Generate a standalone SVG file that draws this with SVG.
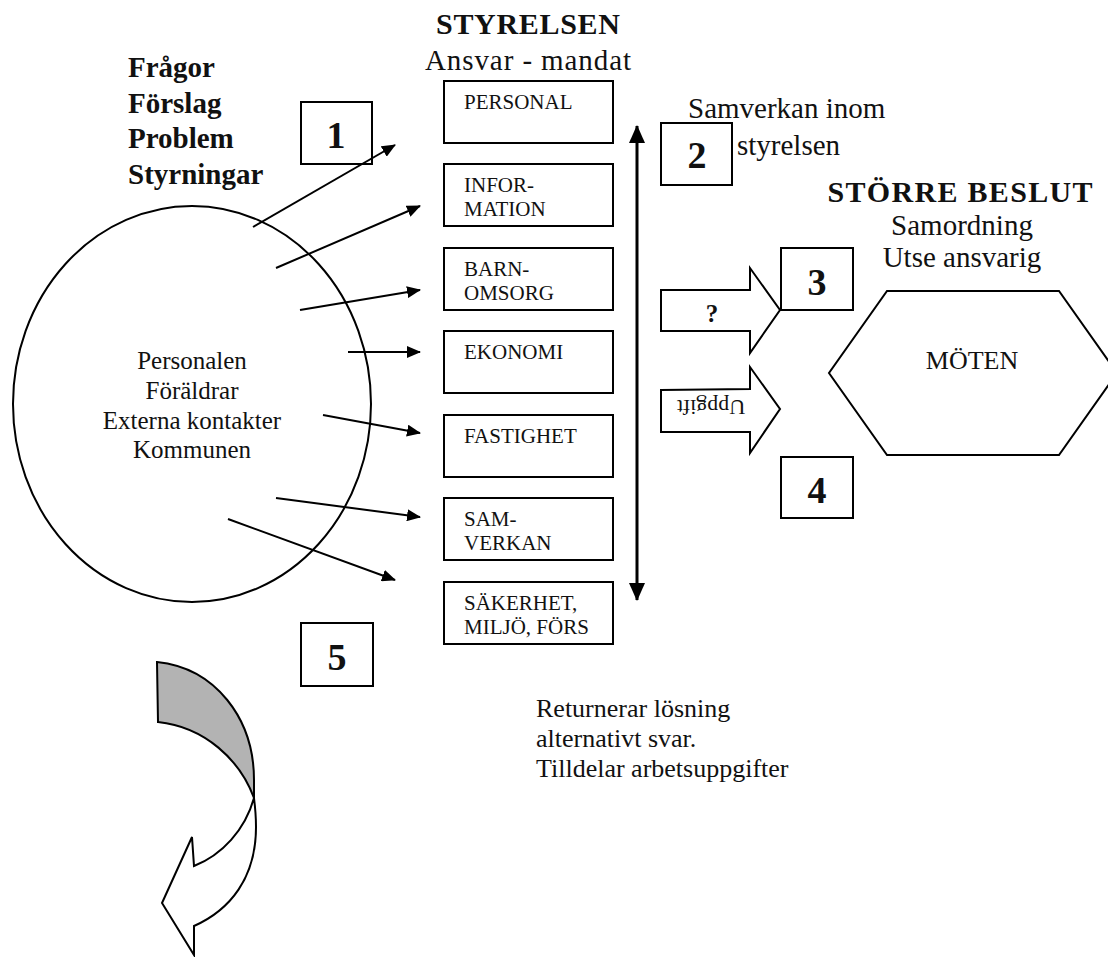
<svg xmlns="http://www.w3.org/2000/svg" width="1108" height="957" viewBox="0 0 1108 957">
<style>
text{font-family:"Liberation Serif","Times New Roman",serif;fill:#111}
.b{font-weight:bold}
.t28{font-size:29px}
.t25{font-size:25px}
.t21{font-size:21px}
.num{font-size:38px;font-weight:bold;text-anchor:middle}
.box{fill:#fff;stroke:#000;stroke-width:2}
.conn{stroke:#000;stroke-width:2;fill:none;marker-end:url(#ah)}
.shape{fill:#fff;stroke:#000;stroke-width:2;stroke-linejoin:miter}
.mid{text-anchor:middle}
</style>
<defs>
<marker id="ah" viewBox="0 0 14 12" refX="13" refY="6" markerWidth="14" markerHeight="12" markerUnits="userSpaceOnUse" orient="auto"><path d="M0,0 L14,6 L0,12 Z" fill="#000"/></marker>
<marker id="ahb" viewBox="0 0 18 16" refX="17" refY="8" markerWidth="18" markerHeight="16" markerUnits="userSpaceOnUse" orient="auto-start-reverse"><path d="M0,0 L18,8 L0,16 Z" fill="#000"/></marker>
</defs>
<rect width="1108" height="957" fill="#fff"/>

<g id="title-styrelsen">
<text class="b mid" x="528" y="34" font-size="30" textLength="184">STYRELSEN</text>
<text class="t28 mid" x="528" y="70" textLength="206">Ansvar - mandat</text>
</g>

<g id="questions">
<text class="b t28" x="128" y="77">Frågor</text>
<text class="b t28" x="128" y="113">Förslag</text>
<text class="b t28" x="128" y="148">Problem</text>
<text class="b t28" x="128" y="184">Styrningar</text>
</g>

<g id="circle">
<ellipse cx="192" cy="404" rx="179" ry="198" fill="none" stroke="#000" stroke-width="2"/>
<text class="t25 mid" x="192" y="369">Personalen</text>
<text class="t25 mid" x="192" y="399">Föräldrar</text>
<text class="t25 mid" x="192" y="429">Externa kontakter</text>
<text class="t25 mid" x="192" y="458">Kommunen</text>
</g>

<g id="box-personal"><rect class="box" x="444" y="81" width="169" height="62"/><text class="t21" x="464" y="109">PERSONAL</text></g>
<g id="box-information"><rect class="box" x="444" y="164" width="169" height="62"/><text class="t21" x="464" y="192">INFOR-</text><text class="t21" x="464" y="216">MATION</text></g>
<g id="box-barnomsorg"><rect class="box" x="444" y="248" width="169" height="62"/><text class="t21" x="464" y="276">BARN-</text><text class="t21" x="464" y="300">OMSORG</text></g>
<g id="box-ekonomi"><rect class="box" x="444" y="331" width="169" height="62"/><text class="t21" x="464" y="359">EKONOMI</text></g>
<g id="box-fastighet"><rect class="box" x="444" y="415" width="169" height="62"/><text class="t21" x="464" y="443">FASTIGHET</text></g>
<g id="box-samverkan"><rect class="box" x="444" y="498" width="169" height="62"/><text class="t21" x="464" y="526">SAM-</text><text class="t21" x="464" y="550">VERKAN</text></g>
<g id="box-sakerhet"><rect class="box" x="444" y="582" width="169" height="62"/><text class="t21" x="464" y="610">SÄKERHET,</text><text class="t21" x="464" y="634">MILJÖ, FÖRS</text></g>

<g id="num-1"><rect class="box" x="301" y="102" width="71" height="62"/><text class="num" x="336" y="148">1</text></g>
<g id="num-2"><rect class="box" x="661" y="123" width="71" height="62"/><text class="num" x="697" y="168">2</text></g>
<g id="num-3"><rect class="box" x="781" y="248" width="72" height="62"/><text class="num" x="817" y="295">3</text></g>
<g id="num-4"><rect class="box" x="781" y="457" width="72" height="61"/><text class="num" x="817" y="503" font-weight="normal">4</text></g>
<g id="num-5"><rect class="box" x="301" y="623" width="72" height="63"/><text class="num" x="337" y="670" font-size="34">5</text></g>

<g id="samverkan-label">
<text class="t28" x="688" y="118">Samverkan inom</text>
<text class="t28" x="737" y="155">styrelsen</text>
</g>

<g id="storre-beslut">
<text class="b mid" x="960" y="202" font-size="30" textLength="265">STÖRRE BESLUT</text>
<text class="t28 mid" x="962" y="235">Samordning</text>
<text class="t28 mid" x="962" y="267">Utse ansvarig</text>
</g>

<g id="moten">
<polygon class="shape" points="887,291 1059,291 1117,373 1059,455 887,455 829,373"/>
<text class="mid" x="972" y="369" font-size="26">MÖTEN</text>
</g>

<g id="arrow-question">
<polygon class="shape" points="661,290 750,290 750,268 780,310 750,353 750,331 661,331"/>
<text class="b mid" x="712" y="322" font-size="25">?</text>
</g>

<g id="arrow-uppgift">
<polygon class="shape" points="661,390 750,389 750,367 780,409 750,453 750,432 661,432"/>
<text class="mid" transform="translate(711,400) rotate(180)" x="0" y="0" font-size="22">Uppgift</text>
</g>

<g id="return-text">
<text x="536" y="717" font-size="26">Returnerar lösning</text>
<text x="536" y="747" font-size="26">alternativt svar.</text>
<text x="536" y="777" font-size="26">Tilldelar arbetsuppgifter</text>
</g>

<g id="curved-arrow">
<path d="M157,662 C215,668 254,718 254,780 L254,798 C240,760 205,727 158,722 Z" fill="#b3b3b3" stroke="#000" stroke-width="2"/>
<path d="M254,798 C255,806 256,815 256,827 C256,878 230,910 194,926 L194,955 L162,903 L192,837 L194,866 C222,855 245,830 254,798 Z" fill="#fff" stroke="#000" stroke-width="2" stroke-linejoin="miter"/>
</g>

<g id="connectors">
<line class="conn" x1="253" y1="227" x2="395" y2="145"/>
<line class="conn" x1="276" y1="268" x2="420" y2="206"/>
<line class="conn" x1="300" y1="310" x2="420" y2="290"/>
<line class="conn" x1="348" y1="352" x2="420" y2="352"/>
<line class="conn" x1="323" y1="415" x2="420" y2="433"/>
<line class="conn" x1="276" y1="498" x2="420" y2="517"/>
<line class="conn" x1="228" y1="519" x2="395" y2="580"/>
<line x1="637" y1="126" x2="637" y2="600" stroke="#000" stroke-width="3" marker-start="url(#ahb)" marker-end="url(#ahb)"/>
</g>
</svg>
